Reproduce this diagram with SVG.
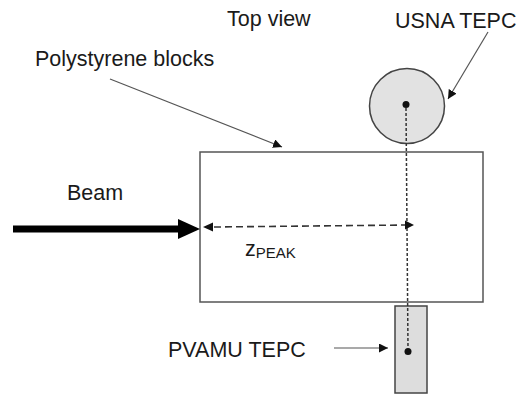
<svg xmlns="http://www.w3.org/2000/svg" width="531" height="394" viewBox="0 0 531 394">
<defs>
<style>
text{font-family:"Liberation Sans",Arial,sans-serif;fill:#1a1a1a;font-size:21.5px}
.thin{stroke:#555;stroke-width:1.2;fill:none}
.dash{stroke:#333;stroke-width:1.6;fill:none}
</style>
<marker id="ah" viewBox="0 0 10 10" refX="10" refY="5" markerWidth="9" markerHeight="9" markerUnits="userSpaceOnUse" orient="auto"><path d="M0,0L10,5L0,10z" fill="#111"/></marker>
</defs>
<rect width="531" height="394" fill="#fff"/>
<g id="blocks"><rect x="200" y="152" width="283" height="150" fill="#fff" stroke="#555" stroke-width="1.5"/></g>
<g id="usna"><circle cx="407" cy="106" r="37.5" fill="#e2e2e2" stroke="#444" stroke-width="1.5"/><circle cx="406" cy="104.5" r="3.5" fill="#111"/></g>
<g id="pvamu"><rect x="395" y="306" width="32" height="87" fill="#ddd" stroke="#444" stroke-width="1.5"/><circle cx="408" cy="351.5" r="3.5" fill="#111"/></g>
<g id="labels">
<text x="227" y="26">Top view</text>
<text x="395" y="28">USNA TEPC</text>
<text x="35" y="66">Polystyrene blocks</text>
<text x="67" y="200">Beam</text>
<text x="168" y="357">PVAMU TEPC</text>
<text x="245" y="256">z<tspan font-size="15" dy="2">PEAK</tspan></text>
</g>
<g id="connectors">
<line x1="110" y1="79" x2="282" y2="147" class="thin" marker-end="url(#ah)"/>
<line x1="488" y1="32" x2="448" y2="99" class="thin" marker-end="url(#ah)"/>
<line x1="334" y1="348" x2="388" y2="348" class="thin" marker-end="url(#ah)"/>
<line x1="406" y1="108" x2="408" y2="348" stroke="#333" stroke-width="1.5" stroke-dasharray="3 2"/>
<line x1="214" y1="227" x2="408" y2="225" class="dash" stroke-dasharray="7 4"/>
<path d="M203,227L213,222.5L213,231.5z" fill="#111"/>
<path d="M414,225L405,220.5L405,229.5z" fill="#111"/>
<line x1="13" y1="229" x2="180" y2="229" stroke="#000" stroke-width="7"/>
<path d="M178,219L200,229L178,239z" fill="#000"/>
</g>
</svg>
